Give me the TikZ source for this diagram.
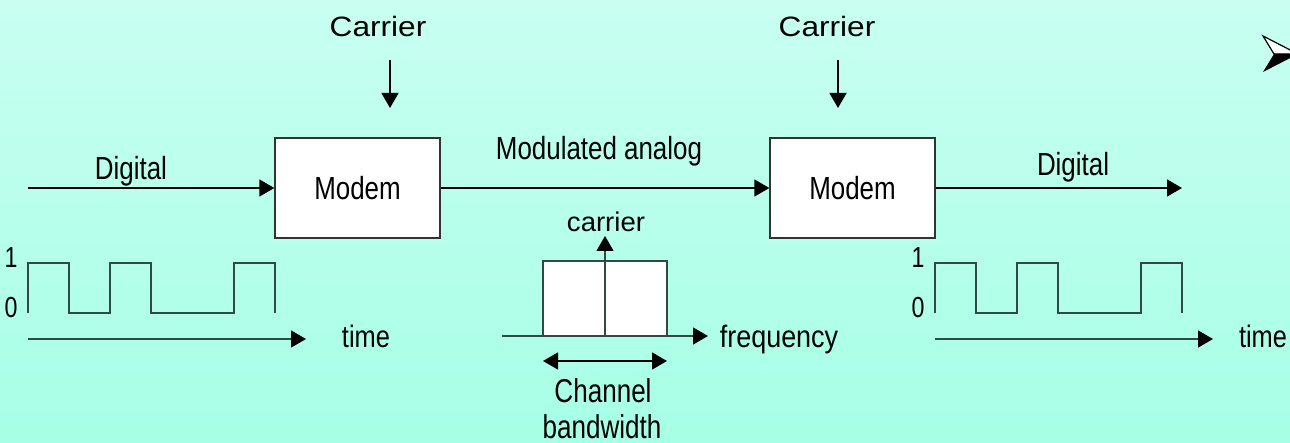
\documentclass[tikz,border=0pt]{standalone}
\usepackage{fontspec}
\setmainfont{Liberation Sans}
\usetikzlibrary{arrows.meta}

% horizontal stretch of a label, keeping its height
\newcommand{\hstretch}[2]{\scalebox{#1}[1]{#2}}

\definecolor{bgtop}{RGB}{200,255,240}
\definecolor{bgbottom}{RGB}{166,255,230}
\definecolor{wavegrey}{RGB}{50,72,66}

\tikzset{
  lbl/.style={inner sep=0pt, anchor=base, font=\fontsize{32}{38}\selectfont},
  smalllbl/.style={lbl, font=\fontsize{28}{34}\selectfont},
  modembox/.style={draw=black!80, fill=white, line width=1.3pt,
    minimum width=165pt, minimum height=100pt, inner sep=0pt,
    font=\fontsize{32}{38}\selectfont},
  head/.tip={Triangle[length=15pt,width=17pt,color=black]},
  tip/.style={-head},
  sig/.style={line width=1.4pt, black, tip},
  wave/.style={draw=wavegrey, line width=1.4pt},
  axis/.style={line width=1.4pt, wavegrey, tip},
}

\begin{document}
\begin{tikzpicture}[x=1pt, y=-1pt]
  % canvas and background
  \useasboundingbox (0,0) rectangle (1290,443);
  \clip (0,0) rectangle (1290,443);
  \shade[top color=bgtop, bottom color=bgbottom] (0,0) rectangle (1290,443);

  % the two modems
  \node[modembox] (modemA) at (357.5,188) {\hstretch{0.81}{Modem}};
  \node[modembox] (modemB) at (852.5,188) {\hstretch{0.81}{Modem}};

  % carrier inputs
  \node[smalllbl] (carA) at (378,37) {\hstretch{1.13}{Carrier}};
  \node[smalllbl] (carB) at (827,37) {\hstretch{1.13}{Carrier}};
  \coordinate (carAtop) at (390,60);
  \coordinate (carAend) at (390,108);
  \coordinate (carBtop) at (838,60);
  \coordinate (carBend) at (838,108);
  \draw[sig] (carAtop) -- (carAend);
  \draw[sig] (carBtop) -- (carBend);

  % signal path
  \coordinate (srcIn) at (28,188);
  \coordinate (sinkOut) at (1182,188);
  \draw[sig] (srcIn) -- (modemA.west);
  \draw[sig] (modemA.east) -- (modemB.west);
  \draw[sig] (modemB.east) -- (sinkOut);
  \node[lbl] (digA) at (131,180) {\hstretch{0.81}{Digital}};
  \node[lbl] (modlbl) at (599,160) {\hstretch{0.81}{Modulated analog}};
  \node[lbl] (digB) at (1073,176) {\hstretch{0.81}{Digital}};

  % digital waveforms against time
  \foreach \dx/\nm/\tx in {0/A/366, 907/B/356} {
    \begin{scope}[shift={(\dx,0)}]
      \draw[wave] (28,313) -- (28,263) -- (69,263) -- (69,313) -- (110,313)
        -- (110,263) -- (151,263) -- (151,313) -- (234,313) -- (234,263)
        -- (275,263) -- (275,313);
      \node[lbl, font=\fontsize{29}{34}\selectfont] (one\nm) at (11,268) {\hstretch{0.8}{1}};
      \node[lbl, font=\fontsize{29}{34}\selectfont] (zero\nm) at (11,318) {\hstretch{0.8}{0}};
      \coordinate (t\nm start) at (28,339);
      \coordinate (t\nm end) at (306,339);
      \draw[axis] (t\nm start) -- (t\nm end);
      \node[lbl, font=\fontsize{31}{36}\selectfont] (time\nm) at (\tx,348) {\hstretch{0.82}{time}};
    \end{scope}
  }

  % channel spectrum
  \node[draw=wavegrey, fill=white, line width=1.3pt, minimum width=124pt,
        minimum height=75pt, inner sep=0pt] (band) at (605,298.5) {};
  \coordinate (fstart) at (502,336);
  \coordinate (fend) at (708,336);
  \draw[axis] (fstart) -- (fend);
  \coordinate (carrierTip) at (605,236);
  \draw[axis, line width=1.3pt] (band.south) -- (carrierTip);
  \node[lbl, font=\fontsize{27}{32}\selectfont] (carlbl) at (606,232) {\hstretch{1.02}{carrier}};
  \node[lbl, font=\fontsize{31}{36}\selectfont] (freq) at (779,348) {\hstretch{0.87}{frequency}};
  \coordinate (bwL) at (543,361);
  \coordinate (bwR) at (667,361);
  \draw[line width=1.4pt, black, head-head] (bwL) -- (bwR);
  \node[lbl, font=\fontsize{33}{38}\selectfont] (chan) at (603,402) {\hstretch{0.79}{Channel}};
  \node[lbl, font=\fontsize{33}{38}\selectfont] (bw) at (602,438) {\hstretch{0.79}{bandwidth}};

  % list bullet at the right edge
  \draw[black, line width=1.2pt, fill=white, line join=miter] (1263,36) -- (1298,54) -- (1274,54) -- cycle;
  \fill[black] (1274,54) -- (1298,54) -- (1263,72) -- cycle;
\end{tikzpicture}
\end{document}
